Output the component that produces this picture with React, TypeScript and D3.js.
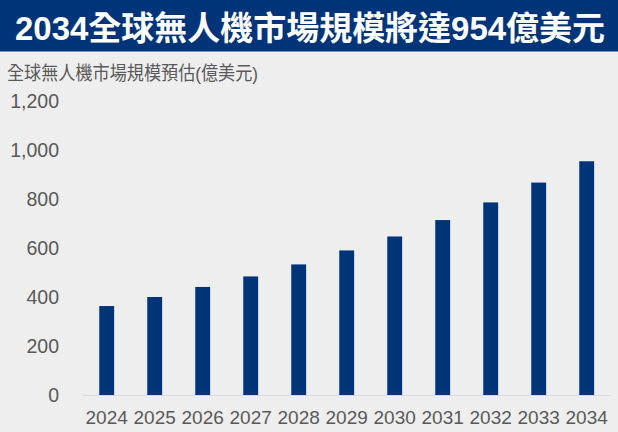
import React from "react";
import * as d3 from "d3";

const years = ["2024", "2025", "2026", "2027", "2028", "2029", "2030", "2031", "2032", "2033", "2034"];
const values = [363, 400, 441, 484, 533, 590, 647, 714, 786, 867, 954];
const yTicks = [0, 200, 400, 600, 800, 1000, 1200];
const titleText = "2034全球無人機市場規模將達954億美元";
const subtitleText = "全球無人機市場規模預估(億美元)";

const W = 618;
const H = 432;
const FONT = "'Liberation Sans', Arial, 'Noto Sans CJK TC', sans-serif";
const NAVY = "#003478";
const GRAY = "#595959";

export default function App() {
  const x = d3.scaleBand<string>().domain(years).range([82.7, 610.7]).paddingInner(0.69).paddingOuter(0.345);
  const y = d3.scaleLinear().domain([0, 1200]).range([395, 101]);
  const fmt = d3.format(",");
  return (
    <svg width={W} height={H} style={{ position: "absolute", left: 0, top: 0 }} fontFamily={FONT}>
      <rect x={0} y={0} width={W} height={H} fill="#eeeeee" />
      <rect x={0} y={0} width={W} height={51.5} fill={NAVY} />
      <line x1={0} x2={W} y1={52.5} y2={52.5} stroke="#f7f7f7" strokeWidth={1} />
      <text x={15} y={40} fill="#ffffff" fontSize={33} fontWeight="bold" textLength={590} lengthAdjust="spacingAndGlyphs">
        {titleText}
      </text>
      <text x={7} y={80} fill={GRAY} fontSize={19} textLength={251} lengthAdjust="spacingAndGlyphs">
        {subtitleText}
      </text>
      {yTicks.map((t) => (
        <text key={t} x={59} y={y(t)} dy="0.36em" textAnchor="end" fill={GRAY} fontSize={19.5}>
          {fmt(t)}
        </text>
      ))}
      <line x1={82.7} x2={610.7} y1={395.5} y2={395.5} stroke="#d9d9d9" strokeWidth={1} />
      {years.map((yr, i) => (
        <rect key={yr} x={x(yr)!} y={y(values[i])} width={x.bandwidth()} height={y(0) - y(values[i])} fill={NAVY} />
      ))}
      {years.map((yr) => (
        <text key={yr} x={x(yr)! + x.bandwidth() / 2} y={424} textAnchor="middle" fill={GRAY} fontSize={19}>
          {yr}
        </text>
      ))}
    </svg>
  );
}
